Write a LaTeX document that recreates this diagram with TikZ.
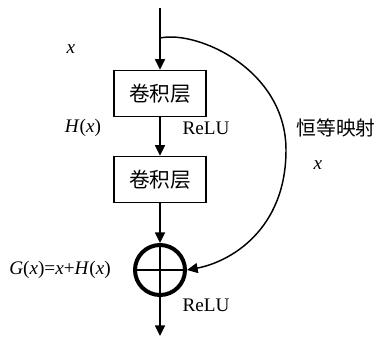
\documentclass[tikz,border=0pt]{standalone}
\usepackage{fontspec}
\setmainfont{Liberation Serif}
\newfontfamily\cjk{Noto Sans CJK SC}
\usetikzlibrary{arrows.meta}

\begin{document}
\begin{tikzpicture}[x=0.75pt, y=-0.75pt,
		font=\fontsize{14.4}{17}\selectfont,
		flow/.style={line width=1.1pt, -{Triangle[length=8pt,width=7.5pt]}},
		convbox/.style={draw, line width=1.1pt, minimum width=69pt, minimum height=34.5pt, inner sep=0pt, font=\fontsize{15.5}{18}\selectfont\cjk},
		sumnode/.style={draw, circle, line width=3pt, minimum size=37.5pt, inner sep=0pt}]

	\useasboundingbox (0,0) rectangle (377,336);

	\coordinate (in) at (160,8);
	\coordinate (split) at (160,38);
	\coordinate (out) at (160,336);

	\node[convbox] (conv1) at (160,93.5) {卷积层};
	\node[convbox] (conv2) at (160,179.5) {卷积层};
	\node[sumnode] (sum) at (160,270) {};

	\draw[line width=1.5pt] (sum.north) -- (sum.south) (sum.west) -- (sum.east);

	\draw[flow] (in) -- (conv1.north);
	\draw[flow] (conv1.south) -- (conv2.north);
	\draw[flow] (conv2.south) -- (sum.north);
	\draw[flow] (sum.south) -- (out);

	% shortcut branch round the two layers
	\draw[flow] (split) .. controls (198,30) and (286,70) .. (286,150)
		.. controls (286,230) and (230,262) .. (sum.east);

	\node (lblx) at (71,49) {\textit{x}};
	\node (lblH) at (83,128) {\textit{H}(\textit{x})};
	\node (relu1) at (206,128) {ReLU};
	\node[font=\fontsize{14.8}{17}\selectfont\cjk] (ident) at (336,128) {恒等映射};
	\node (lblx2) at (318,165) {\textit{x}};
	\node (lblG) at (60,270) {\textit{G}(\textit{x})=\textit{x}+\textit{H}(\textit{x})};
	\node (relu2) at (206,305) {ReLU};
\end{tikzpicture}
\end{document}
